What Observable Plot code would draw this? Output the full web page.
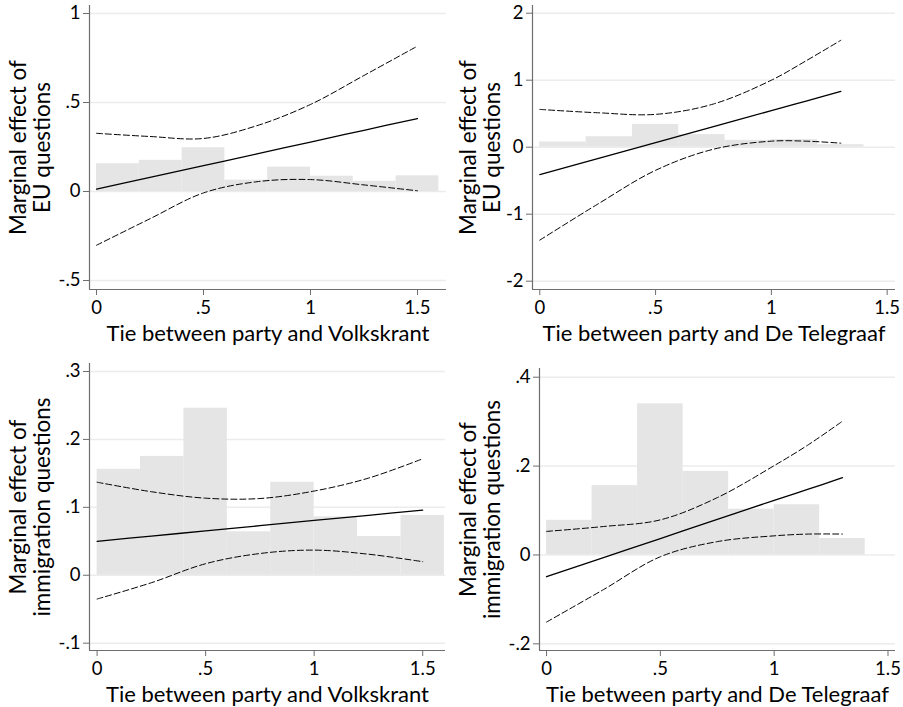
<!DOCTYPE html>
<html>
<head>
<meta charset="utf-8">
<script src="https://cdn.jsdelivr.net/npm/d3@7"></script>
<script src="https://cdn.jsdelivr.net/npm/@observablehq/plot@0.6"></script>
<style>
  html, body { margin: 0; padding: 0; background: white; }
  #root { position: relative; width: 903px; height: 707px; overflow: hidden; background: white; }
  .panel { position: absolute; }
</style>
</head>
<body>
<div id="root"></div>
<script>
// ---------- data ----------
const xTicks = [0, 0.5, 1, 1.5];
const yTicksEU_VK = [-0.5, 0, 0.5, 1];
const yTicksEU_TG = [-2, -1, 0, 1, 2];
const yTicksIM_VK = [-0.1, 0, 0.1, 0.2, 0.3];
const yTicksIM_TG = [-0.2, 0, 0.2, 0.4];

// histogram of the moderator (bin edges, heights on the y scale)
const histEdgesVK = [0, 0.2, 0.4, 0.6, 0.8, 1.0, 1.2, 1.4, 1.6];
const histVK = [0.156, 0.175, 0.246, 0.064, 0.137, 0.086, 0.057, 0.088];
const histEdgesTG = [0, 0.2, 0.4, 0.6, 0.8, 1.0, 1.2, 1.4];
const histTG = [0.078, 0.156, 0.340, 0.188, 0.103, 0.113, 0.037];

// Volkskrant tie values where effects were read
const tieVK = [0, 0.25, 0.5, 0.75, 1, 1.25, 1.5];
// De Telegraaf tie values
const tieTG = [0, 0.25, 0.5, 0.75, 1, 1.15, 1.3];

// EU questions x Volkskrant
const meEU_VK = [0.013, 0.079, 0.145, 0.211, 0.278, 0.344, 0.410];
const upEU_VK = [0.327, 0.309, 0.298, 0.370, 0.489, 0.652, 0.817];
const loEU_VK = [-0.302, -0.153, -0.008, 0.055, 0.067, 0.037, 0.004];

// EU questions x De Telegraaf
const meEU_TG = [-0.410, -0.171, 0.068, 0.307, 0.546, 0.689, 0.833];
const upEU_TG = [0.564, 0.514, 0.490, 0.645, 1.000, 1.290, 1.596];
const loEU_TG = [-1.387, -0.850, -0.345, -0.030, 0.090, 0.090, 0.060];

// immigration questions x Volkskrant
const meIM_VK = [0.050, 0.0577, 0.0653, 0.073, 0.0807, 0.0883, 0.096];
const upIM_VK = [0.137, 0.123, 0.1135, 0.113, 0.124, 0.143, 0.1715];
const loIM_VK = [-0.035, -0.011, 0.017, 0.032, 0.037, 0.031, 0.020];

// immigration questions x De Telegraaf
const meIM_TG = [-0.049, -0.006, 0.037, 0.080, 0.123, 0.148, 0.174];
const upIM_TG = [0.053, 0.064, 0.079, 0.129, 0.201, 0.248, 0.301];
const loIM_TG = [-0.151, -0.078, -0.004, 0.030, 0.043, 0.047, 0.047];

const yLabEU = "Marginal effect of\nEU questions";
const yLabIM = "Marginal effect of\nimmigration questions";
const xLabVK = "Tie between party and Volkskrant";
const xLabTG = "Tie between party and De Telegraaf";

// ---------- drawing ----------
const FONT = "Lato, 'Open Sans', sans-serif";
const fmt = d => String(d).replace(/^(-?)0\./, "$1.");

function panel(o) {
  const hist = o.hist.map((h, i) => ({x1: o.edges[i], x2: o.edges[i + 1], y: h}));
  const curve = o.tie.map((t, i) => ({t, me: o.me[i], up: o.up[i], lo: o.lo[i]}));
  const axisColor = "#6e6e6e";
  const p = Plot.plot({
    width: o.width, height: o.height,
    marginLeft: o.ml, marginRight: o.mr, marginTop: o.mt, marginBottom: o.mb,
    x: {domain: o.xDomain},
    y: {domain: o.yDomain},
    style: {fontFamily: FONT, fontSize: "18.5px", color: "#000", background: "white", overflow: "visible"},
    marks: [
      Plot.ruleY(o.yTicks, {stroke: "#ececec", strokeWidth: 1.5}),
      Plot.rectY(hist, {x1: "x1", x2: "x2", y1: 0, y2: "y", fill: "#e5e5e5", inset: 0}),
      Plot.line(curve, {x: "t", y: "up", stroke: "#000", strokeWidth: 1, strokeDasharray: "6,3", curve: "catmull-rom"}),
      Plot.line(curve, {x: "t", y: "lo", stroke: "#000", strokeWidth: 1, strokeDasharray: "6,3", curve: "catmull-rom"}),
      Plot.line(curve, {x: "t", y: "me", stroke: "#000", strokeWidth: 1.3, curve: "catmull-rom"}),
      Plot.ruleX([o.xDomain[0]], {stroke: axisColor, strokeWidth: 1.2}),
      Plot.ruleY([o.yDomain[0]], {stroke: axisColor, strokeWidth: 1.2}),
      Plot.axisX({ticks: xTicks, tickSize: 6, tickPadding: 5, tickFormat: fmt, label: null, stroke: axisColor, fill: "#000"}),
      Plot.axisY({ticks: o.yTicks, tickSize: 6, tickPadding: 3, tickFormat: fmt, label: null, stroke: axisColor, fill: "#000"}),
      Plot.text([o.xLab], {text: d => d, frameAnchor: "bottom", dy: 44, fontSize: 22, lineAnchor: "middle", fill: "#000"}),
      Plot.text([o.yLab], {text: d => d, frameAnchor: "left", rotate: -90, dx: o.labDx, fontSize: 22.5, lineHeight: 1.08, lineAnchor: "middle", textAnchor: "middle", fill: "#000"})
    ]
  });
  const div = document.createElement("div");
  div.className = "panel";
  div.style.left = o.left + "px";
  div.style.top = o.top + "px";
  div.appendChild(p);
  document.getElementById("root").appendChild(div);
}

panel({left: 0, top: 0, width: 450, height: 345, ml: 89, mr: 4, mt: 5, mb: 56,
  xDomain: [-0.0327, 1.6355], yDomain: [-0.5506, 1.045], yTicks: yTicksEU_VK,
  edges: histEdgesVK, hist: histVK, tie: tieVK, me: meEU_VK, up: upEU_VK, lo: loEU_VK,
  xLab: xLabVK, yLab: yLabEU, labDx: -59});

panel({left: 450, top: 0, width: 453, height: 345, ml: 82, mr: 8, mt: 5, mb: 56,
  xDomain: [-0.0315, 1.536], yDomain: [-2.124, 2.115], yTicks: yTicksEU_TG,
  edges: histEdgesTG, hist: histTG, tie: tieTG, me: meEU_TG, up: upEU_TG, lo: loEU_TG,
  xLab: xLabTG, yLab: yLabEU, labDx: -52});

panel({left: 0, top: 350, width: 450, height: 357, ml: 89, mr: 5, mt: 13, mb: 57,
  xDomain: [-0.035, 1.605], yDomain: [-0.1108, 0.3118], yTicks: yTicksIM_VK,
  edges: histEdgesVK, hist: histVK, tie: tieVK, me: meIM_VK, up: upIM_VK, lo: loIM_VK,
  xLab: xLabVK, yLab: yLabIM, labDx: -59});

panel({left: 450, top: 350, width: 453, height: 357, ml: 89, mr: 8, mt: 18, mb: 57,
  xDomain: [-0.031, 1.533], yDomain: [-0.215, 0.4196], yTicks: yTicksIM_TG,
  edges: histEdgesTG, hist: histTG, tie: tieTG, me: meIM_TG, up: upIM_TG, lo: loIM_TG,
  xLab: xLabTG, yLab: yLabIM, labDx: -59});
</script>
</body>
</html>
